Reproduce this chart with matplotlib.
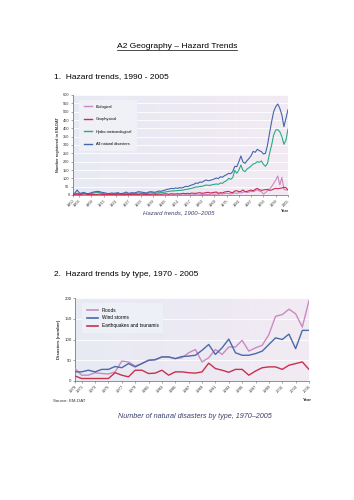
import numpy as np
import matplotlib
matplotlib.use("Agg")
import matplotlib.pyplot as plt
from matplotlib.lines import Line2D
from matplotlib.colors import LinearSegmentedColormap

# ---- chart 1: hazard trends 1900-2005 ----
years1 = list(range(1900, 2006))
all_disasters = [
    8, 12, 30, 14, 10, 16, 12, 8, 10, 14,
    18, 20, 22, 20, 16, 14, 12, 8, 10, 12,
    10, 12, 14, 8, 10, 12, 18, 10, 12, 14,
    12, 16, 20, 18, 16, 14, 12, 18, 20, 18,
    16, 20, 24, 22, 26, 30, 34, 36, 40, 38,
    42, 40, 44, 42, 46, 52, 50, 56, 60, 64,
    72, 70, 78, 76, 84, 90, 86, 88, 92, 96,
    102, 98, 110, 106, 116, 122, 130, 128, 140, 172,
    170, 200, 234, 198, 190, 206, 220, 236, 262, 256,
    274, 266, 260, 246, 250, 300, 372, 440, 500, 530,
    546, 520, 480, 410, 460, 512,
]
hydro_met = [
    4, 6, 10, 8, 6, 10, 8, 4, 6, 8,
    12, 14, 16, 14, 10, 8, 6, 4, 6, 8,
    6, 8, 10, 4, 6, 8, 12, 6, 8, 10,
    8, 10, 12, 10, 10, 8, 8, 12, 14, 12,
    10, 12, 14, 14, 16, 18, 20, 22, 24, 24,
    26, 26, 28, 28, 30, 34, 34, 38, 40, 44,
    48, 48, 52, 52, 56, 60, 58, 58, 62, 64,
    66, 64, 72, 70, 80, 86, 100, 94, 104, 148,
    130, 150, 180, 148, 140, 156, 164, 174, 186, 190,
    200, 196, 204, 184, 172, 190, 250, 300, 360, 390,
    392, 380, 350, 304, 330, 396,
]
geophysical = [
    2, 4, 6, 2, 4, 6, 8, 2, 4, 2,
    4, 2, 4, 6, 2, 4, 2, 2, 4, 2,
    4, 2, 4, 6, 2, 4, 2, 4, 2, 4,
    4, 4, 2, 6, 4, 4, 2, 4, 4, 6,
    4, 4, 6, 4, 6, 8, 6, 4, 8, 6,
    6, 8, 6, 8, 10, 8, 10, 8, 12, 10,
    10, 12, 14, 10, 12, 14, 16, 12, 14, 16,
    18, 10, 14, 12, 18, 20, 22, 16, 14, 24,
    26, 20, 22, 30, 20, 22, 26, 30, 24, 34,
    40, 32, 28, 30, 32, 34, 28, 30, 36, 40,
    38, 40, 42, 46, 44, 30,
]
biological = [
    0, 2, 0, 0, 2, 0, 0, 0, 2, 0,
    0, 0, 2, 0, 0, 0, 0, 2, 0, 0,
    2, 0, 0, 0, 0, 2, 0, 0, 0, 0,
    0, 0, 2, 0, 0, 0, 0, 0, 2, 0,
    0, 2, 0, 0, 0, 2, 0, 0, 0, 2,
    0, 0, 2, 0, 0, 2, 0, 2, 0, 2,
    2, 0, 2, 4, 2, 4, 2, 4, 6, 4,
    6, 4, 8, 6, 8, 10, 8, 6, 10, 12,
    10, 14, 12, 16, 20, 14, 18, 22, 20, 26,
    30, 24, 20, 6, 14, 26, 36, 50, 70, 90,
    114, 60, 106, 34, 30, 32,
]
ticks1 = [1900] + list(range(1903, 2006, 6))

# ---- chart 2: disasters by type 1970-2005 ----
years2 = list(range(1970, 2006))
floods = [
    30, 14, 14, 20, 18, 17, 22, 48, 46, 36,
    42, 50, 52, 58, 58, 54, 56, 68, 76, 46,
    56, 76, 64, 82, 82, 98, 72, 80, 86, 112,
    156, 160, 173, 162, 130, 194,
]
wind_storms = [
    22, 22, 26, 22, 28, 28, 35, 32, 42, 34,
    42, 50, 51, 58, 58, 54, 59, 60, 62, 74,
    88, 64, 80, 101, 68, 62, 62, 66, 72, 88,
    104, 100, 113, 78, 122, 122,
]
quakes = [
    12, 6, 6, 6, 6, 6, 20, 14, 10, 26,
    26, 18, 19, 26, 14, 22, 22, 20, 19, 22,
    43, 30, 26, 21, 28, 28, 14, 24, 32, 34,
    34, 28, 38, 42, 46, 28,
]
ticks2 = [1970] + list(range(1971, 2006, 2))

plt.rcParams['font.family'] = ['Liberation Sans', 'DejaVu Sans']

fig = plt.figure(figsize=(3.54, 5.0), dpi=100)
fig.patch.set_facecolor('white')

grad = LinearSegmentedColormap.from_list('bg', ['#e8ebf3', '#ece9f3', '#f2ebf3'])
gradient = np.linspace(0, 1, 256).reshape(1, -1)


def style_axes(ax, ymax, ystep):
    ax.imshow(gradient, cmap=grad, aspect='auto', extent=[0, 1, 0, 1],
              transform=ax.transAxes, zorder=0)
    ax.set_ylim(0, ymax)
    ax.set_yticks(np.arange(0, ymax + 1, ystep))
    for v in np.arange(ystep, ymax + 1, ystep):
        ax.axhline(v, color='white', lw=0.6, zorder=1)
    for s in ['top', 'right']:
        ax.spines[s].set_visible(False)
    for s in ['left', 'bottom']:
        ax.spines[s].set_color('#666666')
        ax.spines[s].set_linewidth(0.5)
    ax.tick_params(length=1.5, width=0.4, color='#666666', pad=1)


# page texts
t = fig.text(0.5, 1 - 47 / 500, 'A2 Geography \u2013 Hazard Trends',
             ha='center', va='center', fontsize=6.1)
fig.text(0.153, 1 - 77 / 500, '1.  Hazard trends, 1990 - 2005',
         ha='left', va='center', fontsize=6.0)
fig.text(0.153, 1 - 275 / 500, '2.  Hazard trends by type, 1970 - 2005',
         ha='left', va='center', fontsize=6.0)

fig.canvas.draw()
bb = t.get_window_extent().transformed(fig.transFigure.inverted())
fig.add_artist(Line2D([bb.x0, bb.x1], [bb.y0 + 0.001, bb.y0 + 0.001],
                      transform=fig.transFigure, color='black', lw=0.5))

# chart 1
ax1 = fig.add_axes([73 / 354, 1 - 195 / 500, 215 / 354, 100 / 500])
style_axes(ax1, 600, 50)
ax1.plot(years1, biological, color='#cc88c2', lw=0.8, label='Biological', zorder=3)
ax1.plot(years1, geophysical, color='#cc2a52', lw=0.8, label='Geophysical', zorder=4)
ax1.plot(years1, hydro_met, color='#2aaa82', lw=0.8, label='Hydro-meteorological', zorder=3)
ax1.plot(years1, all_disasters, color='#4466aa', lw=0.8, label='All natural disasters', zorder=3)
ax1.set_xlim(1900, 2005)
ax1.set_xticks(ticks1)
ax1.set_xticklabels([str(y) for y in ticks1], rotation=45, ha='right',
                    rotation_mode='anchor', fontsize=2.8, color='#333333')
ax1.tick_params(axis='y', labelsize=2.8, labelcolor='#333333')
ax1.set_ylabel('Number registered in EM-DAT', fontsize=2.8, fontweight='bold',
               color='#333333', labelpad=2)
leg1 = ax1.legend(loc='upper left', bbox_to_anchor=(0.02, 0.97), fontsize=2.8,
                  handlelength=2.2, labelspacing=2.2, borderpad=1.2,
                  frameon=True, fancybox=False)
leg1.get_frame().set_facecolor('#eff1f7')
leg1.get_frame().set_edgecolor('none')
leg1.get_frame().set_alpha(1)
for line in leg1.get_lines():
    line.set_linewidth(1.0)
fig.text(285 / 354, 1 - 211 / 500, 'Year', fontsize=2.8, fontweight='bold',
         ha='center', va='center', color='#333333')
fig.text(179 / 354, 1 - 213 / 500, 'Hazard trends, 1900\u20132005', fontsize=4.3,
         style='italic', ha='center', va='center', color='#3a3f70')

# chart 2
ax2 = fig.add_axes([75 / 354, 1 - 381 / 500, 234 / 354, 83 / 500])
style_axes(ax2, 200, 50)
ax2.plot(years2, floods, color='#c98bbf', lw=1.0, label='Floods', zorder=3)
ax2.plot(years2, wind_storms, color='#4a6aa8', lw=1.0, label='Wind storms', zorder=3)
ax2.plot(years2, quakes, color='#c8304e', lw=1.0, label='Earthquakes and tsunamis', zorder=4)
ax2.set_xlim(1970, 2005)
ax2.set_xticks(ticks2)
ax2.set_xticklabels([str(y) for y in ticks2], rotation=45, ha='right',
                    rotation_mode='anchor', fontsize=3.0, color='#333333')
ax2.tick_params(axis='y', labelsize=3.2, labelcolor='#333333')
ax2.set_ylabel('Disasters (number)', fontsize=3.2, fontweight='bold',
               color='#333333', labelpad=2)
leg2 = ax2.legend(loc='upper left', bbox_to_anchor=(0.02, 0.97), fontsize=3.4,
                  handlelength=2.4, labelspacing=0.6, borderpad=1.0,
                  frameon=True, fancybox=False)
leg2.get_frame().set_facecolor('#eef0f7')
leg2.get_frame().set_edgecolor('none')
leg2.get_frame().set_alpha(1)
for line in leg2.get_lines():
    line.set_linewidth(1.2)
fig.text(307 / 354, 1 - 400 / 500, 'Year', fontsize=3.2, fontweight='bold',
         ha='center', va='center', color='#333333')
fig.text(53 / 354, 1 - 401 / 500, 'Source: EM-DAT', fontsize=3.2,
         ha='left', va='center', color='#333333')
fig.text(195 / 354, 1 - 416 / 500,
         'Number of natural disasters by type, 1970\u20132005', fontsize=5.2,
         style='italic', ha='center', va='center', color='#3a3f70')

fig.savefig('out.png', dpi=100, facecolor='white')
